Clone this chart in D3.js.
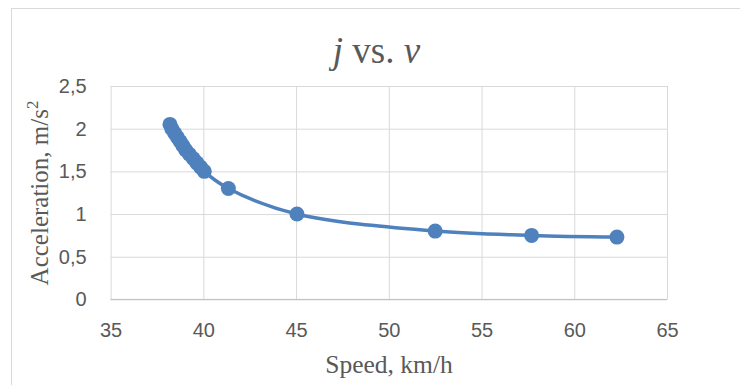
<!DOCTYPE html>
<html>
<head>
<meta charset="utf-8">
<script src="https://cdn.jsdelivr.net/npm/d3@7"></script>
<style>
  body { margin: 0; background: #fff; }
  svg { display: block; }
</style>
</head>
<body>
<svg></svg>
<script>
// speed (km/h) and acceleration (m/s2)
let speed = [38.2, 38.3, 38.45, 38.6, 38.75, 38.9, 39.05, 39.25, 39.45, 39.65, 39.85, 40.05, 41.35, 45.05, 52.5, 57.7, 62.3];
let accel = [2.05, 2.0, 1.95, 1.9, 1.85, 1.8, 1.75, 1.7, 1.65, 1.6, 1.55, 1.5, 1.3, 1.0, 0.8, 0.75, 0.73];
let xTicks = [35, 40, 45, 50, 55, 60, 65];
let yTicks = [0, 0.5, 1, 1.5, 2, 2.5];

let width = 740;
let height = 385;
let plotLeft = 110.6, plotRight = 667, plotTop = 86, plotBottom = 299.4;
let blue = "#4f81bd";
let grey = "#595959";

let svg = d3.select("svg").attr("width", width).attr("height", height);

let values = speed.map((v, i) => [v, accel[i]]);

let xScale = d3.scaleLinear().domain([35, 65]).range([plotLeft, plotRight]);
let yScale = d3.scaleLinear().domain([0, 2.5]).range([plotBottom, plotTop]);
let fmt = (d) => String(d).replace(".", ",");

// chart border
svg.append("rect")
  .attr("x", 11.5).attr("y", 8.5)
  .attr("width", 760).attr("height", 400)
  .attr("fill", "none").attr("stroke", "#d9d9d9");

// gridlines
svg.append("g")
  .attr("transform", "translate(0," + plotBottom + ")")
  .call(d3.axisBottom(xScale).tickValues(xTicks).tickSize(-(plotBottom - plotTop)).tickFormat(""))
  .call((g) => g.select(".domain").remove())
  .call((g) => g.selectAll("line").attr("stroke", "#d9d9d9"));

svg.append("g")
  .attr("transform", "translate(" + plotLeft + ",0)")
  .call(d3.axisLeft(yScale).tickValues(yTicks).tickSize(-(plotRight - plotLeft)).tickFormat(""))
  .call((g) => g.select(".domain").remove())
  .call((g) => g.selectAll("line").attr("stroke", "#d9d9d9"));

// axis line at bottom
svg.append("line")
  .attr("x1", plotLeft).attr("x2", plotRight)
  .attr("y1", plotBottom).attr("y2", plotBottom)
  .attr("stroke", "#bfbfbf");

// tick labels
let xAxis = svg.append("g")
  .attr("transform", "translate(0," + plotBottom + ")")
  .call(d3.axisBottom(xScale).tickValues(xTicks).tickSize(0).tickPadding(23));
xAxis.select(".domain").remove();
xAxis.selectAll("text")
  .attr("font-family", "Liberation Sans, Arial, sans-serif")
  .attr("font-size", 20).attr("fill", grey);

let yAxis = svg.append("g")
  .attr("transform", "translate(" + plotLeft + ",0)")
  .call(d3.axisLeft(yScale).tickValues(yTicks).tickSize(0).tickPadding(24).tickFormat(fmt));
yAxis.select(".domain").remove();
yAxis.selectAll("text")
  .attr("font-family", "Liberation Sans, Arial, sans-serif")
  .attr("font-size", 20).attr("fill", grey);

// smooth line
let line = d3.line()
  .x((d) => xScale(d[0]))
  .y((d) => yScale(d[1]))
  .curve(d3.curveCatmullRom.alpha(0.5));

svg.append("path")
  .datum(values)
  .attr("d", line)
  .attr("fill", "none")
  .attr("stroke", blue)
  .attr("stroke-width", 3.5);

svg.selectAll("circle")
  .data(values)
  .enter()
  .append("circle")
  .attr("cx", (d) => xScale(d[0]))
  .attr("cy", (d) => yScale(d[1]))
  .attr("r", 7.5)
  .attr("fill", blue);

// title
let title = svg.append("text")
  .attr("x", 376.5).attr("y", 63)
  .attr("text-anchor", "middle")
  .attr("font-family", "Liberation Serif, Times New Roman, serif")
  .attr("font-size", 37).attr("fill", grey);
title.append("tspan").attr("font-style", "italic").text("j");
title.append("tspan").text(" vs. ");
title.append("tspan").attr("font-style", "italic").text("v");

// axis titles
svg.append("text")
  .attr("x", 389).attr("y", 373)
  .attr("text-anchor", "middle")
  .attr("font-family", "Liberation Serif, Times New Roman, serif")
  .attr("font-size", 25.5).attr("fill", grey)
  .text("Speed, km/h");

let yTitle = svg.append("text")
  .attr("transform", "translate(48,193) rotate(-90)")
  .attr("text-anchor", "middle")
  .attr("font-family", "Liberation Serif, Times New Roman, serif")
  .attr("font-size", 25).attr("fill", grey);
yTitle.append("tspan").text("Acceleration, m/s");
yTitle.append("tspan").attr("font-size", 17).attr("dy", -10).text("2");
</script>
</body>
</html>
